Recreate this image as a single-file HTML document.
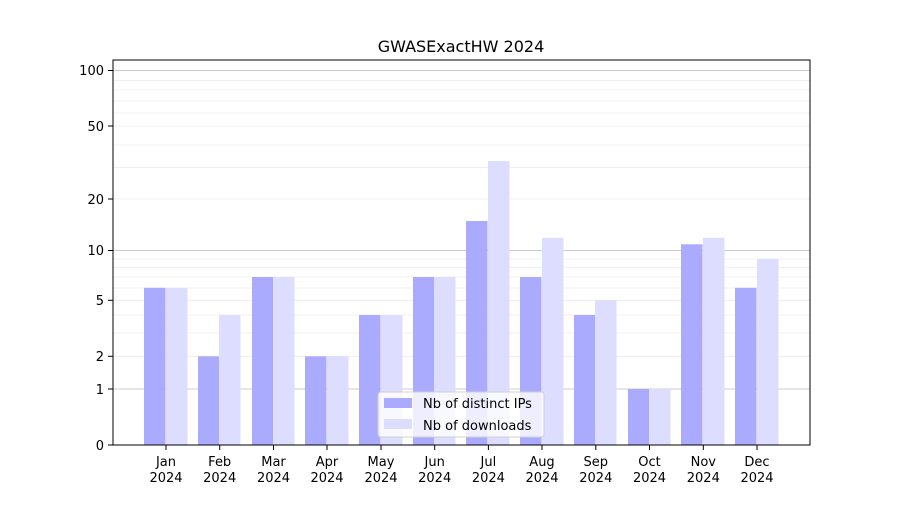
<!DOCTYPE html>
<html><head><meta charset="utf-8"><style>body{margin:0;background:#fff}</style></head>
<body>
<svg width="900" height="500" xmlns="http://www.w3.org/2000/svg" font-family="DejaVu Sans, Liberation Sans, sans-serif" font-size="13">
<rect width="900" height="500" fill="#fff"/>
<g stroke="#ebebeb" stroke-width="0.8">
<line x1="113" x2="810" y1="356.3" y2="356.3"/><line x1="113" x2="810" y1="333" y2="333"/><line x1="113" x2="810" y1="315" y2="315"/><line x1="113" x2="810" y1="300.3" y2="300.3"/><line x1="113" x2="810" y1="288" y2="288"/><line x1="113" x2="810" y1="277" y2="277"/><line x1="113" x2="810" y1="267.5" y2="267.5"/><line x1="113" x2="810" y1="259" y2="259"/>
<line x1="113" x2="810" y1="199" y2="199"/><line x1="113" x2="810" y1="167.6" y2="167.6"/><line x1="113" x2="810" y1="145" y2="145"/><line x1="113" x2="810" y1="126" y2="126"/><line x1="113" x2="810" y1="113" y2="113"/><line x1="113" x2="810" y1="101" y2="101"/><line x1="113" x2="810" y1="90" y2="90"/><line x1="113" x2="810" y1="80.6" y2="80.6"/>
</g>
<g stroke="#cccccc" stroke-width="1">
<line x1="113" x2="810" y1="389" y2="389"/><line x1="113" x2="810" y1="250.5" y2="250.5"/><line x1="113" x2="810" y1="70.5" y2="70.5"/>
</g>
<g fill="#aaaaff">
<rect x="144" y="287.8" width="21.5" height="157.2"/>
<rect x="198" y="356.3" width="21.5" height="88.7"/>
<rect x="252" y="277" width="21.5" height="168"/>
<rect x="305" y="356.3" width="21.5" height="88.7"/>
<rect x="359" y="315" width="21.5" height="130"/>
<rect x="413" y="277" width="21.5" height="168"/>
<rect x="466" y="221" width="21.5" height="224"/>
<rect x="520" y="277" width="21.5" height="168"/>
<rect x="574" y="315" width="21.5" height="130"/>
<rect x="628" y="389" width="21.5" height="56"/>
<rect x="681" y="244.3" width="21.5" height="200.7"/>
<rect x="735" y="287.8" width="21.5" height="157.2"/>
</g>
<g fill="#ddddff">
<rect x="166" y="287.8" width="21.5" height="157.2"/>
<rect x="219" y="315" width="21.5" height="130"/>
<rect x="273" y="277" width="21.5" height="168"/>
<rect x="327" y="356.3" width="21.5" height="88.7"/>
<rect x="381" y="315" width="21.5" height="130"/>
<rect x="434" y="277" width="21.5" height="168"/>
<rect x="488" y="161" width="21.5" height="284"/>
<rect x="542" y="237.8" width="21.5" height="207.2"/>
<rect x="595" y="300.3" width="21.5" height="144.7"/>
<rect x="649" y="389" width="21.5" height="56"/>
<rect x="703" y="237.8" width="21.5" height="207.2"/>
<rect x="757" y="259" width="21.5" height="186"/>
</g>
<rect x="113" y="60" width="697" height="385" fill="none" stroke="#000" stroke-width="1"/>
<g stroke="#000">
<line x1="108" x2="113" y1="445" y2="445"/><line x1="108" x2="113" y1="389" y2="389"/><line x1="108" x2="113" y1="356.3" y2="356.3"/><line x1="108" x2="113" y1="300.3" y2="300.3"/><line x1="108" x2="113" y1="250.5" y2="250.5"/><line x1="108" x2="113" y1="199" y2="199"/><line x1="108" x2="113" y1="126" y2="126"/><line x1="108" x2="113" y1="70.5" y2="70.5"/>
</g>
<g text-anchor="end" fill="#000">
<text x="104" y="450">0</text><text x="104" y="394">1</text><text x="104" y="361">2</text><text x="104" y="305">5</text><text x="104" y="255">10</text><text x="104" y="204">20</text><text x="104" y="131">50</text><text x="104" y="75">100</text>
</g>
<g text-anchor="middle" fill="#000">
<text x="166" y="466">Jan</text><text x="166" y="482">2024</text>
<text x="219.7" y="466">Feb</text><text x="219.7" y="482">2024</text>
<text x="273.5" y="466">Mar</text><text x="273.5" y="482">2024</text>
<text x="327" y="466">Apr</text><text x="327" y="482">2024</text>
<text x="381" y="466">May</text><text x="381" y="482">2024</text>
<text x="434.7" y="466">Jun</text><text x="434.7" y="482">2024</text>
<text x="488.4" y="466">Jul</text><text x="488.4" y="482">2024</text>
<text x="542" y="466">Aug</text><text x="542" y="482">2024</text>
<text x="595.8" y="466">Sep</text><text x="595.8" y="482">2024</text>
<text x="649.5" y="466">Oct</text><text x="649.5" y="482">2024</text>
<text x="703.3" y="466">Nov</text><text x="703.3" y="482">2024</text>
<text x="757" y="466">Dec</text><text x="757" y="482">2024</text>
<text x="461" y="52" font-size="16">GWASExactHW 2024</text>
</g>
<g stroke="#000">
<line x1="166" x2="166" y1="445" y2="450"/><line x1="219.7" x2="219.7" y1="445" y2="450"/><line x1="273.5" x2="273.5" y1="445" y2="450"/><line x1="327" x2="327" y1="445" y2="450"/><line x1="381" x2="381" y1="445" y2="450"/><line x1="434.7" x2="434.7" y1="445" y2="450"/><line x1="488.4" x2="488.4" y1="445" y2="450"/><line x1="542" x2="542" y1="445" y2="450"/><line x1="595.8" x2="595.8" y1="445" y2="450"/><line x1="649.5" x2="649.5" y1="445" y2="450"/><line x1="703.3" x2="703.3" y1="445" y2="450"/><line x1="757" x2="757" y1="445" y2="450"/>
</g>
<rect x="378" y="392" width="166" height="45" rx="3" fill="#fff" fill-opacity="0.8" stroke="#d0d0d0"/>
<rect x="384" y="398" width="28" height="10" fill="#aaaaff"/>
<rect x="384" y="419" width="28" height="10" fill="#ddddff"/>
<text x="423" y="408" fill="#000">Nb of distinct IPs</text>
<text x="423" y="430" fill="#000">Nb of downloads</text>
</svg>
</body></html>
